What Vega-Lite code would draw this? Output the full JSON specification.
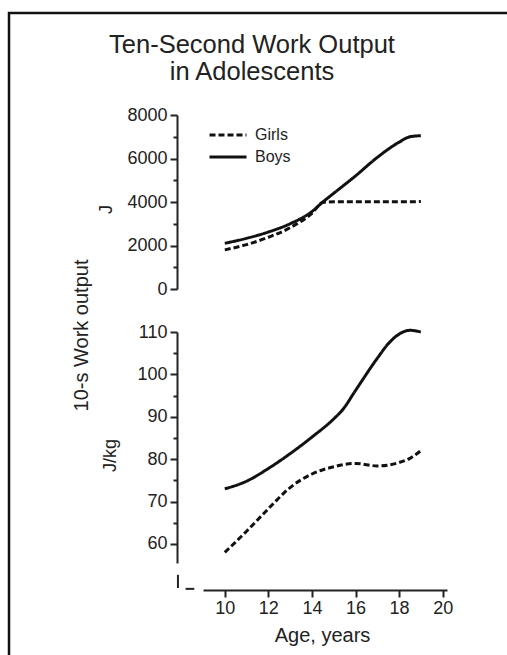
{
  "$schema": "https://vega.github.io/schema/vega-lite/v6.json",
  "usermeta": {"embedOptions": {"actions": false}},
  "width": 510,
  "height": 654,
  "autosize": {"type": "none"},
  "padding": {"left": 9, "top": 13, "right": -12, "bottom": -12},
  "background": "white",
  "title": {
    "text": ["Ten-Second Work Output", "in Adolescents"],
    "font": "Liberation Sans",
    "fontSize": 25.5,
    "fontWeight": "normal",
    "color": "#222",
    "anchor": "middle",
    "frame": "group",
    "offset": -72,
    "lineHeight": 27,
    "dx": -12
  },
  "config": {
    "view": {"stroke": "#111", "strokeWidth": 2.5},
    "font": "Liberation Sans",
    "axis": {
      "domainColor": "#222", "domainWidth": 2, "tickColor": "#222", "tickWidth": 2,
      "labelColor": "#222", "titleColor": "#222", "labelFont": "Liberation Sans", "titleFont": "Liberation Sans",
      "labelFontSize": 18, "titleFontWeight": "normal", "grid": false, "labelOverlap": false, "labelFlush": false
    }
  },
  "datasets": {
    "top": [
      {"age": 10, "sex": "Boys", "J": 2100}, {"age": 11, "sex": "Boys", "J": 2330}, {"age": 12, "sex": "Boys", "J": 2620},
      {"age": 13, "sex": "Boys", "J": 3000}, {"age": 14, "sex": "Boys", "J": 3560}, {"age": 14.5, "sex": "Boys", "J": 4000},
      {"age": 15, "sex": "Boys", "J": 4400}, {"age": 16, "sex": "Boys", "J": 5200}, {"age": 17, "sex": "Boys", "J": 6050},
      {"age": 18, "sex": "Boys", "J": 6750}, {"age": 18.5, "sex": "Boys", "J": 7000}, {"age": 19, "sex": "Boys", "J": 7050},
      {"age": 10, "sex": "Girls", "J": 1800}, {"age": 11, "sex": "Girls", "J": 2040}, {"age": 12, "sex": "Girls", "J": 2380},
      {"age": 13, "sex": "Girls", "J": 2820}, {"age": 14, "sex": "Girls", "J": 3480}, {"age": 14.5, "sex": "Girls", "J": 3980},
      {"age": 15, "sex": "Girls", "J": 4010}, {"age": 16, "sex": "Girls", "J": 4010}, {"age": 17, "sex": "Girls", "J": 4010},
      {"age": 18, "sex": "Girls", "J": 4010}, {"age": 19, "sex": "Girls", "J": 4020}
    ],
    "bottom": [
      {"age": 10, "sex": "Boys", "Jkg": 73}, {"age": 11, "sex": "Boys", "Jkg": 74.8}, {"age": 12, "sex": "Boys", "Jkg": 77.8},
      {"age": 13, "sex": "Boys", "Jkg": 81.3}, {"age": 14, "sex": "Boys", "Jkg": 85.2}, {"age": 15, "sex": "Boys", "Jkg": 89.5},
      {"age": 15.4, "sex": "Boys", "Jkg": 91.6}, {"age": 16, "sex": "Boys", "Jkg": 96.2}, {"age": 17, "sex": "Boys", "Jkg": 103.8},
      {"age": 17.5, "sex": "Boys", "Jkg": 107.2}, {"age": 18, "sex": "Boys", "Jkg": 109.5}, {"age": 18.5, "sex": "Boys", "Jkg": 110.4},
      {"age": 19, "sex": "Boys", "Jkg": 110},
      {"age": 10, "sex": "Girls", "Jkg": 58}, {"age": 11, "sex": "Girls", "Jkg": 63}, {"age": 12, "sex": "Girls", "Jkg": 68.3},
      {"age": 13, "sex": "Girls", "Jkg": 73.3}, {"age": 14, "sex": "Girls", "Jkg": 76.5}, {"age": 15, "sex": "Girls", "Jkg": 78.2},
      {"age": 16, "sex": "Girls", "Jkg": 79}, {"age": 17, "sex": "Girls", "Jkg": 78.4}, {"age": 18, "sex": "Girls", "Jkg": 79.2},
      {"age": 18.5, "sex": "Girls", "Jkg": 80.2}, {"age": 19, "sex": "Girls", "Jkg": 82}
    ],
    "brk": [
      {"a": 7.85, "a2": 7.85, "v": 52.7, "v2": 49.6},
      {"a": 8.2, "a2": 8.6, "v": 49.4, "v2": 49.4}
    ]
  },
  "layer": [
    {
      "data": {"name": "top"},
      "mark": {"type": "line", "interpolate": "monotone", "strokeWidth": 3, "color": "#111"},
      "encoding": {
        "x": {"field": "age", "type": "quantitative", "scale": {"domain": [9, 20.2], "range": [194, 438], "nice": false, "zero": false},
          "axis": {"orient": "bottom", "offset": -77, "values": [10, 12, 14, 16, 18, 20], "format": "d", "tickSize": 7, "labelPadding": 2,
            "title": "Age, years", "titleFontSize": 20, "titleX": 313, "titleY": 45, "titleAlign": "center", "titleBaseline": "middle"}},
        "y": {"field": "J", "type": "quantitative", "scale": {"domain": [0, 8000], "range": [276, 102], "nice": false},
          "axis": {"orient": "left", "offset": -168, "values": [0, 1000, 2000, 3000, 4000, 5000, 6000, 7000, 8000], "format": "d",
            "labelExpr": "datum.value % 2000 === 0 ? datum.label : ''",
            "tickSize": {"condition": {"test": "datum.value % 2000 !== 0", "value": 4}, "value": 7},
            "labelPadding": 3, "title": "J", "titleFontSize": 18, "titleX": -71, "titleY": 196, "titleAngle": 270,
            "titleAlign": "center", "titleBaseline": "middle"}},
        "strokeDash": {"field": "sex", "type": "nominal", "scale": {"domain": ["Girls", "Boys"], "range": [[6, 3], [1, 0]]},
          "legend": {"orient": "none", "legendX": 199, "legendY": 112, "title": null, "symbolType": "stroke", "symbolSize": 1369,
            "symbolStrokeWidth": 3, "symbolStrokeColor": "#111", "labelFontSize": 16, "labelFont": "Liberation Sans",
            "labelColor": "#222", "labelOffset": 7, "clipHeight": 20, "rowPadding": 2}}
      }
    },
    {
      "data": {"name": "bottom"},
      "mark": {"type": "line", "interpolate": "monotone", "strokeWidth": 3, "color": "#111"},
      "encoding": {
        "x": {"field": "age", "type": "quantitative", "scale": {"domain": [9, 20.2], "range": [194, 438], "nice": false, "zero": false},
          "axis": {"orient": "bottom", "offset": -77, "values": [10, 12, 14, 16, 18, 20], "format": "d", "tickSize": 7, "labelPadding": 2,
            "title": "Age, years", "titleFontSize": 20, "titleX": 313, "titleY": 45, "titleAlign": "center", "titleBaseline": "middle"}},
        "y": {"field": "Jkg", "type": "quantitative", "scale": {"domain": [55.5, 110], "range": [550, 319], "nice": false, "zero": false},
          "axis": {"orient": "left", "offset": -168, "values": [60, 65, 70, 75, 80, 85, 90, 95, 100, 105, 110], "format": "d",
            "labelExpr": "datum.value % 10 === 0 ? datum.label : ''",
            "tickSize": {"condition": {"test": "datum.value % 10 !== 0", "value": 4}, "value": 7},
            "labelPadding": 3, "title": "J/kg", "titleFontSize": 18, "titleX": -67, "titleY": 442, "titleAngle": 270,
            "titleAlign": "center", "titleBaseline": "middle"}},
        "strokeDash": {"field": "sex", "type": "nominal", "scale": {"domain": ["Girls", "Boys"], "range": [[6, 3], [1, 0]]},
          "legend": {"orient": "none", "legendX": 199, "legendY": 112, "title": null, "symbolType": "stroke", "symbolSize": 1369,
            "symbolStrokeWidth": 3, "symbolStrokeColor": "#111", "labelFontSize": 16, "labelFont": "Liberation Sans",
            "labelColor": "#222", "labelOffset": 7, "clipHeight": 20, "rowPadding": 2}}
      }
    },
    {
      "data": {"name": "brk"},
      "mark": {"type": "rule", "strokeWidth": 2, "color": "#222"},
      "encoding": {
        "x": {"field": "a", "type": "quantitative", "scale": {"domain": [9, 20.2], "range": [194, 438], "nice": false, "zero": false},
          "axis": {"orient": "bottom", "offset": -77, "values": [10, 12, 14, 16, 18, 20], "format": "d", "tickSize": 7, "labelPadding": 2,
            "title": "Age, years", "titleFontSize": 20, "titleX": 313, "titleY": 45, "titleAlign": "center", "titleBaseline": "middle"}},
        "x2": {"field": "a2"},
        "y": {"field": "v", "type": "quantitative", "scale": {"domain": [55.5, 110], "range": [550, 319], "nice": false, "zero": false},
          "axis": {"orient": "left", "offset": -168, "labels": false, "ticks": false, "domain": false,
            "title": "10-s Work output", "titleFontSize": 20, "titleX": -96, "titleY": 322, "titleAngle": 270,
            "titleAlign": "center", "titleBaseline": "middle"}},
        "y2": {"field": "v2"}
      }
    }
  ],
  "resolve": {"scale": {"y": "independent"}, "axis": {"y": "independent"}}
}
